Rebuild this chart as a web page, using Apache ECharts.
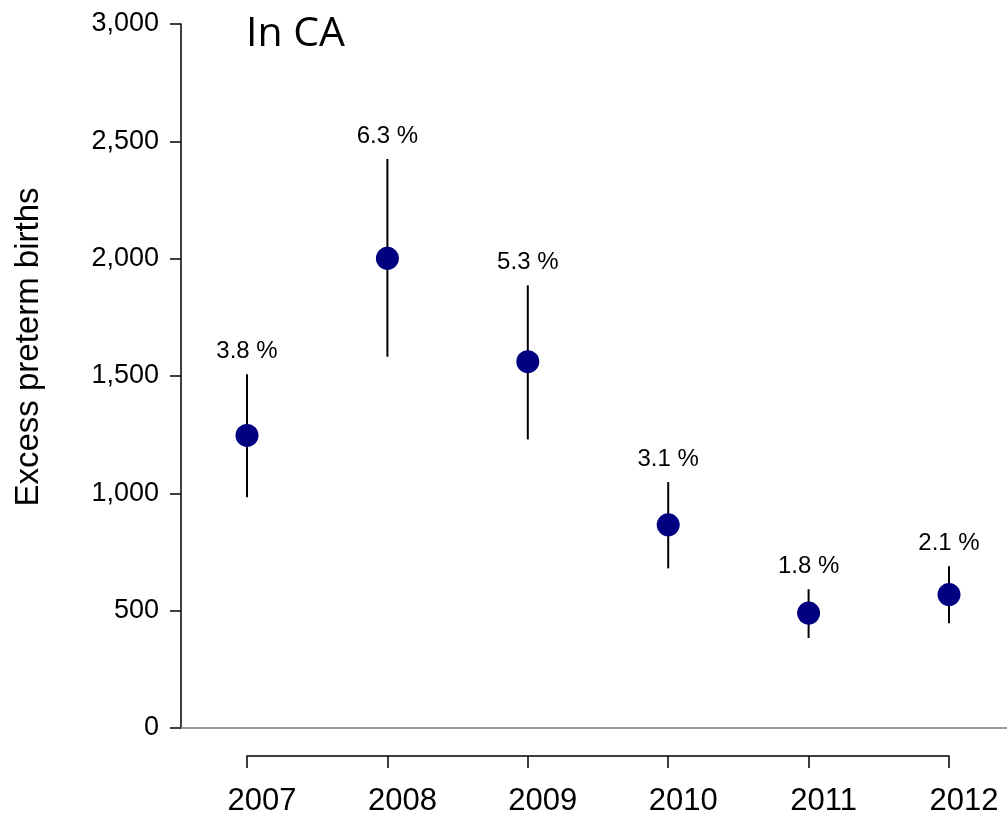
<!DOCTYPE html>
<html>
<head>
<meta charset="utf-8">
<script src="https://cdn.jsdelivr.net/npm/echarts@6/dist/echarts.min.js"></script>
<style>
  html, body { margin: 0; padding: 0; background: #fff; }
  #chart { width: 1007px; height: 817px; }
</style>
</head>
<body>
<div id="chart"></div>
<script>
// Data
const years = ['2007', '2008', '2009', '2010', '2011', '2012'];
const excess = [1244, 2000, 1559, 863, 486, 565];
const lower = [980, 1580, 1227, 677, 380, 443];
const upper = [1505, 2424, 1885, 1045, 588, 686];
const pctLabels = ['3.8 %', '6.3 %', '5.3 %', '3.1 %', '1.8 %', '2.1 %'];
const yTicks = [0, 500, 1000, 1500, 2000, 2500, 3000];

const font = '"Liberation Sans", Arial, sans-serif';
const chart = echarts.init(document.getElementById('chart'));

const option = {
  animation: false,
  title: {
    text: 'In CA',
    left: 241,
    top: 9,
    textStyle: { fontFamily: '"Open Sans", sans-serif', fontSize: 41, fontWeight: 'normal', color: '#000' }
  },
  grid: [
    { left: 247, right: 58, top: 24, bottom: 89 },
    { left: 181, right: 0, top: 24, bottom: 89 }
  ],
  xAxis: [
    {
      gridIndex: 0,
      type: 'category',
      data: years,
      boundaryGap: false,
      offset: 29,
      axisLine: { onZero: false, lineStyle: { color: '#000', width: 1.5 } },
      axisTick: { length: 12, lineStyle: { color: '#000', width: 1.5 } },
      // labels sit a little right of their ticks in the original
      axisLabel: { margin: 30, padding: [0, 0, 0, 30], fontFamily: font, fontSize: 31, color: '#000' },
      splitLine: { show: false }
    },
    {
      gridIndex: 1,
      type: 'value',
      min: 0,
      max: 1,
      axisLine: { onZero: false, lineStyle: { color: '#999', width: 2 } },
      axisTick: { show: false },
      axisLabel: { show: false },
      splitLine: { show: false }
    }
  ],
  yAxis: [
    {
      gridIndex: 0,
      type: 'value',
      min: 0,
      max: 3000,
      interval: 500,
      show: false
    },
    {
      gridIndex: 1,
      type: 'value',
      min: 0,
      max: 3000,
      interval: 500,
      name: 'Excess preterm births',
      nameLocation: 'middle',
      nameGap: 136,
      nameTextStyle: { fontFamily: font, fontSize: 33, color: '#000', padding: [0, 0, 0, 58] },
      axisLine: { show: true, onZero: false, lineStyle: { color: '#000', width: 1.5 } },
      axisTick: { show: true, length: 11, lineStyle: { color: '#000', width: 1.5 } },
      axisLabel: {
        margin: 22,
        fontFamily: font,
        fontSize: 27,
        color: '#000',
        formatter: v => yTicks.includes(v) ? v.toLocaleString('en-US') : ''
      },
      splitLine: { show: false }
    }
  ],
  series: [
    {
      type: 'custom',
      xAxisIndex: 0,
      yAxisIndex: 0,
      data: years.map((y, i) => [i, lower[i], upper[i]]),
      renderItem: (params, api) => {
        const lo = api.coord([api.value(0), api.value(1)]);
        const hi = api.coord([api.value(0), api.value(2)]);
        return {
          type: 'group',
          children: [
            {
              type: 'line',
              shape: { x1: lo[0], y1: lo[1], x2: hi[0], y2: hi[1] },
              style: { stroke: '#000', lineWidth: 2 }
            },
            {
              type: 'text',
              x: hi[0],
              y: hi[1] - 11,
              style: {
                text: pctLabels[params.dataIndex],
                fontFamily: font,
                fontSize: 24,
                fill: '#000',
                align: 'center',
                verticalAlign: 'bottom'
              }
            }
          ]
        };
      },
      z: 2
    },
    {
      type: 'scatter',
      xAxisIndex: 0,
      yAxisIndex: 0,
      data: excess,
      symbol: 'circle',
      symbolSize: 23,
      itemStyle: { color: '#000080', opacity: 1 },
      z: 3
    }
  ]
};

chart.setOption(option);
</script>
</body>
</html>
